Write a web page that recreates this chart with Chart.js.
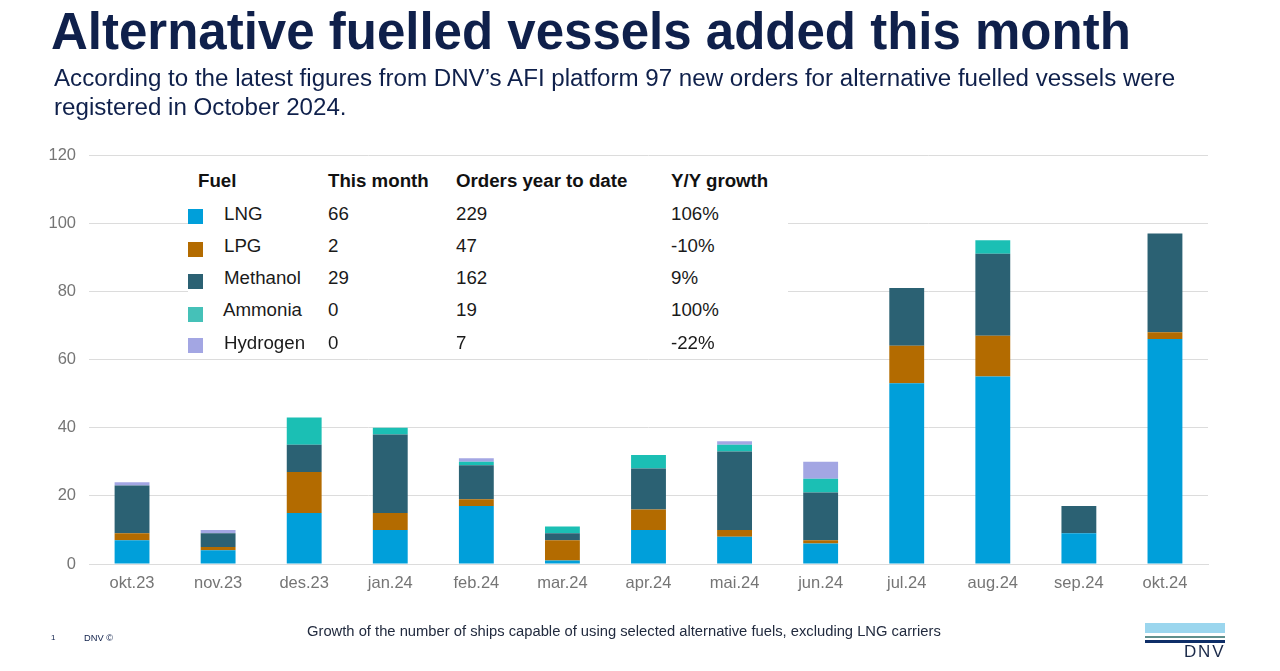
<!DOCTYPE html>
<html>
<head>
<meta charset="utf-8">
<title>Alternative fuelled vessels added this month</title>
<script src="https://cdn.jsdelivr.net/npm/chart.js@4/dist/chart.umd.min.js"></script>
<style>
    html, body { margin: 0; padding: 0; background: #fff; }
    body { position: relative; width: 1280px; height: 671px; overflow: hidden; font-family: "Liberation Sans", Arial, sans-serif; }
    #chart { position: absolute; left: 0; top: 0; }
    .abs { position: absolute; white-space: nowrap; }
    #title { left: 51px; top: 4px; font-size: 51px; line-height: 56px; font-weight: bold; color: #0f204b; }
    #subtitle { left: 54px; top: 63px; font-size: 24.15px; line-height: 29px; color: #0f204b; }
    #note { left: 307px; top: 622px; font-size: 14.75px; line-height: 18px; color: #222b3f; }
    #pageNo { left: 51px; top: 633px; font-size: 8px; line-height: 10px; color: #0f204b; }
    #owner { left: 84px; top: 633px; font-size: 9.3px; line-height: 10px; color: #0f204b; }
    #tableBack { left: 188px; top: 166px; width: 600px; height: 184px; background: #fff; }
    .cell { position: absolute; white-space: nowrap; font-size: 18.7px; line-height: 22px; color: #1a1a1a; }
    .head { font-weight: bold; color: #111; }
    .swatch { position: absolute; width: 15px; height: 15px; left: 188px; }
    #logoA { left: 1145px; top: 623px; width: 80px; height: 10px; background: #9bd6ee; }
    #logoB { left: 1145px; top: 636px; width: 80px; height: 2px; background: #5f8f8c; }
    #logoC { left: 1145px; top: 640px; width: 80px; height: 3px; background: #0f2f68; }
    #logoText { left: 1184px; top: 644px; font-size: 17px; line-height: 16px; letter-spacing: 1.8px; color: #1b2a4a; }
</style>
</head>
<body>
<canvas id="chart" width="1280" height="671"></canvas>
<div class="abs" id="title">Alternative fuelled vessels added this month</div>
<div class="abs" id="subtitle">According to the latest figures from DNV’s AFI platform 97 new orders for alternative fuelled vessels were<br>registered in October 2024.</div>
<div class="abs" id="tableBack"></div>
<div id="fuelTable"></div>
<div class="abs" id="note">Growth of the number of ships capable of using selected alternative fuels, excluding LNG carriers</div>
<div class="abs" id="pageNo">1</div>
<div class="abs" id="owner">DNV ©</div>
<div class="abs" id="logoA"></div>
<div class="abs" id="logoB"></div>
<div class="abs" id="logoC"></div>
<div class="abs" id="logoText">DNV</div>

<script>
// chart data
const months = ['okt.23', 'nov.23', 'des.23', 'jan.24', 'feb.24', 'mar.24', 'apr.24', 'mai.24', 'jun.24', 'jul.24', 'aug.24', 'sep.24', 'okt.24'];
const lng = [7, 4, 15, 10, 17, 1, 10, 8, 6, 53, 55, 9, 66];
const lpg = [2, 1, 12, 5, 2, 6, 6, 2, 1, 11, 12, 0, 2];
const methanol = [14, 4, 8, 23, 10, 2, 12, 23, 14, 17, 24, 8, 29];
const ammonia = [0, 0, 8, 2, 1, 2, 4, 2, 4, 0, 4, 0, 0];
const hydrogen = [1, 1, 0, 0, 1, 0, 0, 1, 5, 0, 0, 0, 0];

// table values
const fuels = ['LNG', 'LPG', 'Methanol', 'Ammonia', 'Hydrogen'];
const thisMonth = ['66', '2', '29', '0', '0'];
const yearToDate = ['229', '47', '162', '19', '7'];
const yoyGrowth = ['106%', '-10%', '9%', '100%', '-22%'];
const tableHeads = ['Fuel', 'This month', 'Orders year to date', 'Y/Y growth'];

const barColors = ['#009fda', '#b36b00', '#2b6173', '#1bbfb4', '#a3a6e3'];
const swatchColors = ['#009fda', '#b36b00', '#2b6173', '#45c1b8', '#a3a6e3'];

function addCell(parent, text, x, y, cls) {
    const el = document.createElement('div');
    el.className = 'cell' + (cls ? ' ' + cls : '');
    el.style.left = x + 'px';
    el.style.top = y + 'px';
    el.textContent = text;
    parent.appendChild(el);
}

function buildTable() {
    const table = document.getElementById('fuelTable');
    const headX = [198, 328, 456, 671];
    const rowY = [203, 235, 267, 299, 332];
    const swatchY = [209, 242, 274, 307, 338];

    tableHeads.forEach((h, i) => addCell(table, h, headX[i], 170, 'head'));

    fuels.forEach((fuel, i) => {
        const sw = document.createElement('div');
        sw.className = 'swatch';
        sw.style.top = swatchY[i] + 'px';
        sw.style.background = swatchColors[i];
        table.appendChild(sw);

        addCell(table, fuel, fuel === 'Ammonia' ? 223 : 224, rowY[i]);
        addCell(table, thisMonth[i], 328, rowY[i]);
        addCell(table, yearToDate[i], 456, rowY[i]);
        addCell(table, yoyGrowth[i], 671, rowY[i]);
    });
}

function initChart() {
    const series = [lng, lpg, methanol, ammonia, hydrogen];
    new Chart(document.getElementById('chart'), {
        type: 'bar',
        data: {
            labels: months,
            datasets: series.map((values, i) => ({
                label: fuels[i],
                data: values,
                backgroundColor: barColors[i],
                barPercentage: 0.81,
                categoryPercentage: 0.5
            }))
        },
        options: {
            responsive: false,
            animation: false,
            layout: { padding: { top: 155, right: 72, left: 0, bottom: 0 } },
            plugins: { legend: { display: false }, tooltip: { enabled: false } },
            scales: {
                x: {
                    stacked: true,
                    afterFit: scale => { scale.height = 107; },
                    grid: { display: false, drawTicks: false },
                    border: { color: '#dcdcdc', width: 1 },
                    ticks: { color: '#757575', font: { family: 'Liberation Sans', size: 16.5 }, padding: 10, maxRotation: 0 }
                },
                y: {
                    stacked: true,
                    min: 0,
                    max: 120,
                    afterFit: scale => { scale.width = 89; },
                    grid: { color: '#dcdcdc', drawTicks: false },
                    border: { display: false },
                    ticks: { stepSize: 20, color: '#757575', font: { family: 'Liberation Sans', size: 16.5 }, padding: 13 }
                }
            }
        }
    });
}

buildTable();
initChart();
</script>
</body>
</html>
